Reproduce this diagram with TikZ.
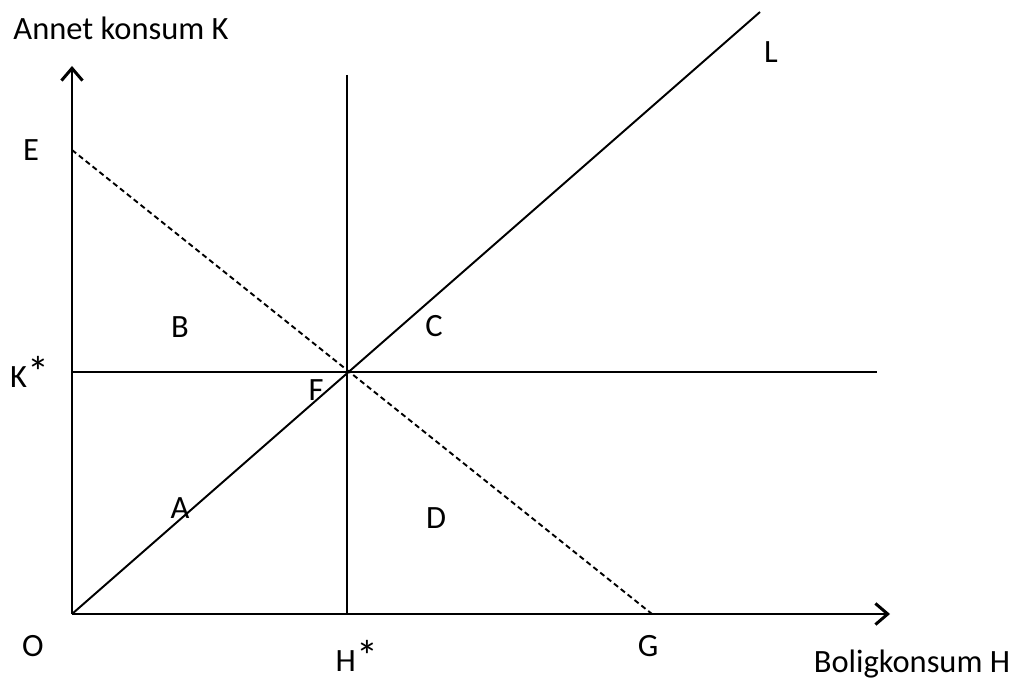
\documentclass[tikz,border=0pt]{standalone}
\usepackage{fontspec}
\setmainfont{Carlito}
\usepackage{graphicx}
\usepackage{tikz}
\usetikzlibrary{arrows.meta}

\newcommand{\hstar}{\kern0.5pt\raisebox{0.05ex}{\scalebox{1.35}{*}}}

\begin{document}
\begin{tikzpicture}[x=0.02cm, y=-0.02cm, font=\fontsize{18.5}{22}\selectfont]
        \useasboundingbox (0,0) rectangle (1015,682);
        \tikzset{
            axis/.style={line width=1.7pt, -{Straight Barb[length=7pt, width=12pt, line width=1.7pt]}},
            line/.style={line width=1.1pt},
            budget/.style={line width=1.1pt, dash pattern=on 3pt off 2pt},
            lbl/.style={inner sep=1pt}
        }
        % Define nodes
        \coordinate (O) at (72, 614);
        \coordinate (ytop) at (72, 66);
        \coordinate (xend) at (890, 614);
        \coordinate (E) at (72, 150);
        \coordinate (G) at (652, 614);
        \coordinate (F) at (347, 372);
        \coordinate (htop) at (347, 75);
        \coordinate (hbot) at (347, 614);
        \coordinate (kleft) at (72, 372);
        \coordinate (kright) at (877, 372);
        \coordinate (Lend) at (760, 12);

        \node[lbl] (ylab) at (121, 28) {Annet konsum K};
        \node[lbl] (xlab) at (912, 664) {Boligkonsum H};
        \node[lbl] (e) at (31, 150) {E};
        \node[lbl] (ks) at (30, 372) {K\hstar};
        \node[lbl] (o) at (33, 646) {O};
        \node[lbl] (hs) at (357, 656) {H\hstar};
        \node[lbl] (g) at (648, 646) {G};
        \node[lbl] (l) at (771, 52) {L};
        \node[lbl] (b) at (180, 327) {B};
        \node[lbl] (c) at (434, 326) {C};
        \node[lbl] (f) at (316, 390) {F};
        \node[lbl] (a) at (180, 508) {A};
        \node[lbl] (d) at (436, 518) {D};

        % Draw edges
        \draw[line] (htop) -- (hbot);
        \draw[line] (kleft) -- (kright);
        \draw[line] (O) -- (Lend);
        \draw[budget] (E) -- (G);
        \draw[axis] (O) -- (ytop);
        \draw[axis] (O) -- (xend);
    \end{tikzpicture}
\end{document}
